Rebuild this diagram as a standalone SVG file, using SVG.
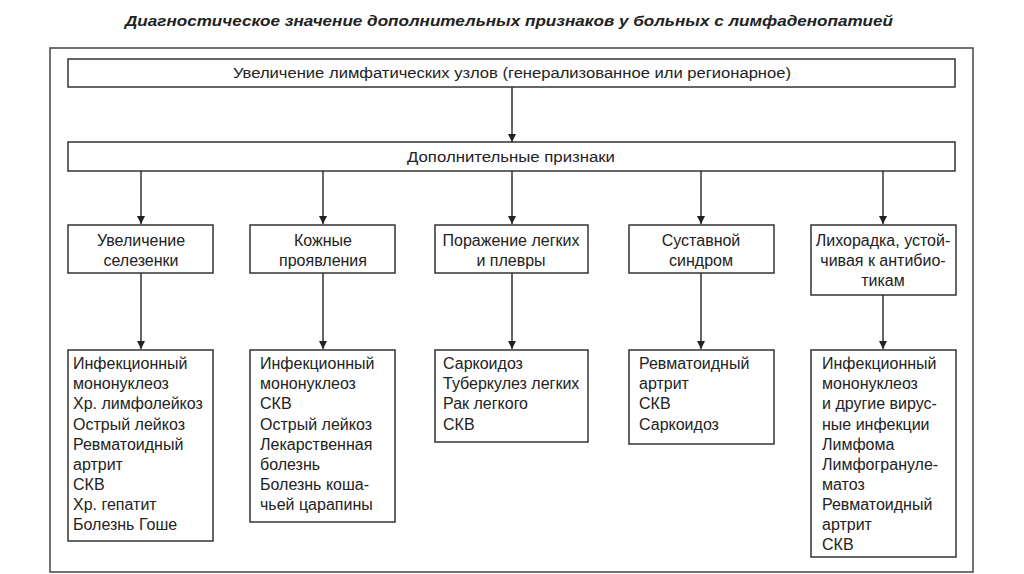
<svg xmlns="http://www.w3.org/2000/svg" width="1024" height="574" viewBox="0 0 1024 574">
<defs>
<style>
.box{fill:#fff;stroke:#333;stroke-width:1.5}
.frame{fill:none;stroke:#444;stroke-width:1.5}
.ln{stroke:#333;stroke-width:1.5;fill:none}
.t{font-family:"Liberation Sans",Arial,sans-serif;font-size:16px;fill:#222}
.c{text-anchor:middle}
.n{font-family:"Liberation Sans",Arial,sans-serif;font-size:14px;fill:#222;text-anchor:middle}
.title{font-family:"Liberation Sans",Arial,sans-serif;font-size:15px;font-style:italic;font-weight:bold;fill:#222;text-anchor:middle}
</style>
<marker id="ah" viewBox="0 0 10 10" refX="10" refY="5" markerWidth="8" markerHeight="10" markerUnits="userSpaceOnUse" orient="auto">
<path d="M0,0 L10,5 L0,10 Z" fill="#222"/>
</marker>
</defs>
<rect width="1024" height="574" fill="#fff"/>
<text class="title" x="509" y="26" textLength="768" lengthAdjust="spacingAndGlyphs">Диагностическое значение дополнительных признаков у больных с лимфаденопатией</text>
<rect class="frame" x="50" y="48" width="923" height="524"/>

<g id="connectors">
<line class="ln" x1="512" y1="87" x2="512" y2="142" marker-end="url(#ah)"/>
<line class="ln" x1="141" y1="171" x2="141" y2="224" marker-end="url(#ah)"/>
<line class="ln" x1="323" y1="171" x2="323" y2="224" marker-end="url(#ah)"/>
<line class="ln" x1="512" y1="171" x2="512" y2="224" marker-end="url(#ah)"/>
<line class="ln" x1="701" y1="171" x2="701" y2="224" marker-end="url(#ah)"/>
<line class="ln" x1="883" y1="171" x2="883" y2="224" marker-end="url(#ah)"/>
<line class="ln" x1="141" y1="273" x2="141" y2="349" marker-end="url(#ah)"/>
<line class="ln" x1="323" y1="273" x2="323" y2="349" marker-end="url(#ah)"/>
<line class="ln" x1="512" y1="273" x2="512" y2="349" marker-end="url(#ah)"/>
<line class="ln" x1="701" y1="273" x2="701" y2="349" marker-end="url(#ah)"/>
<line class="ln" x1="883" y1="295" x2="883" y2="349" marker-end="url(#ah)"/>
</g>

<g id="top">
<rect class="box" x="68" y="59" width="887" height="28"/>
<text class="n" x="512" y="78" textLength="558" lengthAdjust="spacingAndGlyphs">Увеличение лимфатических узлов (генерализованное или регионарное)</text>
</g>
<g id="extra">
<rect class="box" x="68" y="142" width="887" height="29"/>
<text class="n" x="511" y="162" textLength="208" lengthAdjust="spacingAndGlyphs">Дополнительные признаки</text>
</g>

<g id="spleen">
<rect class="box" x="68" y="225" width="145" height="48"/>
<text class="t c" x="141" y="246">Увеличение</text>
<text class="t c" x="141" y="266">селезенки</text>
</g>
<g id="skin">
<rect class="box" x="250" y="225" width="145" height="48"/>
<text class="t c" x="323" y="246">Кожные</text>
<text class="t c" x="323" y="266">проявления</text>
</g>
<g id="lungs">
<rect class="box" x="435" y="225" width="153" height="48"/>
<text class="t c" x="511" y="246">Поражение легких</text>
<text class="t c" x="511" y="266">и плевры</text>
</g>
<g id="joint">
<rect class="box" x="629" y="225" width="145" height="48"/>
<text class="t c" x="701" y="246">Суставной</text>
<text class="t c" x="701" y="266">синдром</text>
</g>
<g id="fever">
<rect class="box" x="811" y="225" width="145" height="70"/>
<text class="t c" x="883" y="246">Лихорадка, устой-</text>
<text class="t c" x="883" y="266">чивая к антибио-</text>
<text class="t c" x="883" y="286">тикам</text>
</g>

<g id="list1">
<rect class="box" x="68" y="350" width="145" height="191"/>
<text class="t" x="73" y="369">Инфекционный</text>
<text class="t" x="73" y="389">мононуклеоз</text>
<text class="t" x="73" y="409">Хр. лимфолейкоз</text>
<text class="t" x="73" y="430">Острый лейкоз</text>
<text class="t" x="73" y="450">Ревматоидный</text>
<text class="t" x="73" y="470">артрит</text>
<text class="t" x="73" y="490">СКВ</text>
<text class="t" x="73" y="510">Хр. гепатит</text>
<text class="t" x="73" y="530">Болезнь Гоше</text>
</g>
<g id="list2">
<rect class="box" x="250" y="350" width="145" height="172"/>
<text class="t" x="260" y="369">Инфекционный</text>
<text class="t" x="260" y="389">мононуклеоз</text>
<text class="t" x="260" y="409">СКВ</text>
<text class="t" x="260" y="430">Острый лейкоз</text>
<text class="t" x="260" y="450">Лекарственная</text>
<text class="t" x="260" y="470">болезнь</text>
<text class="t" x="260" y="490">Болезнь коша-</text>
<text class="t" x="260" y="510">чьей царапины</text>
</g>
<g id="list3">
<rect class="box" x="435" y="350" width="153" height="92"/>
<text class="t" x="443" y="369">Саркоидоз</text>
<text class="t" x="443" y="389">Туберкулез легких</text>
<text class="t" x="443" y="409">Рак легкого</text>
<text class="t" x="443" y="430">СКВ</text>
</g>
<g id="list4">
<rect class="box" x="629" y="350" width="145" height="94"/>
<text class="t" x="639" y="369">Ревматоидный</text>
<text class="t" x="639" y="389">артрит</text>
<text class="t" x="639" y="409">СКВ</text>
<text class="t" x="639" y="430">Саркоидоз</text>
</g>
<g id="list5">
<rect class="box" x="811" y="350" width="145" height="207"/>
<text class="t" x="822" y="369">Инфекционный</text>
<text class="t" x="822" y="389">мононуклеоз</text>
<text class="t" x="822" y="409">и другие вирус-</text>
<text class="t" x="822" y="430">ные инфекции</text>
<text class="t" x="822" y="450">Лимфома</text>
<text class="t" x="822" y="470">Лимфогрануле-</text>
<text class="t" x="822" y="490">матоз</text>
<text class="t" x="822" y="510">Ревматоидный</text>
<text class="t" x="822" y="530">артрит</text>
<text class="t" x="822" y="550">СКВ</text>
</g>
</svg>
